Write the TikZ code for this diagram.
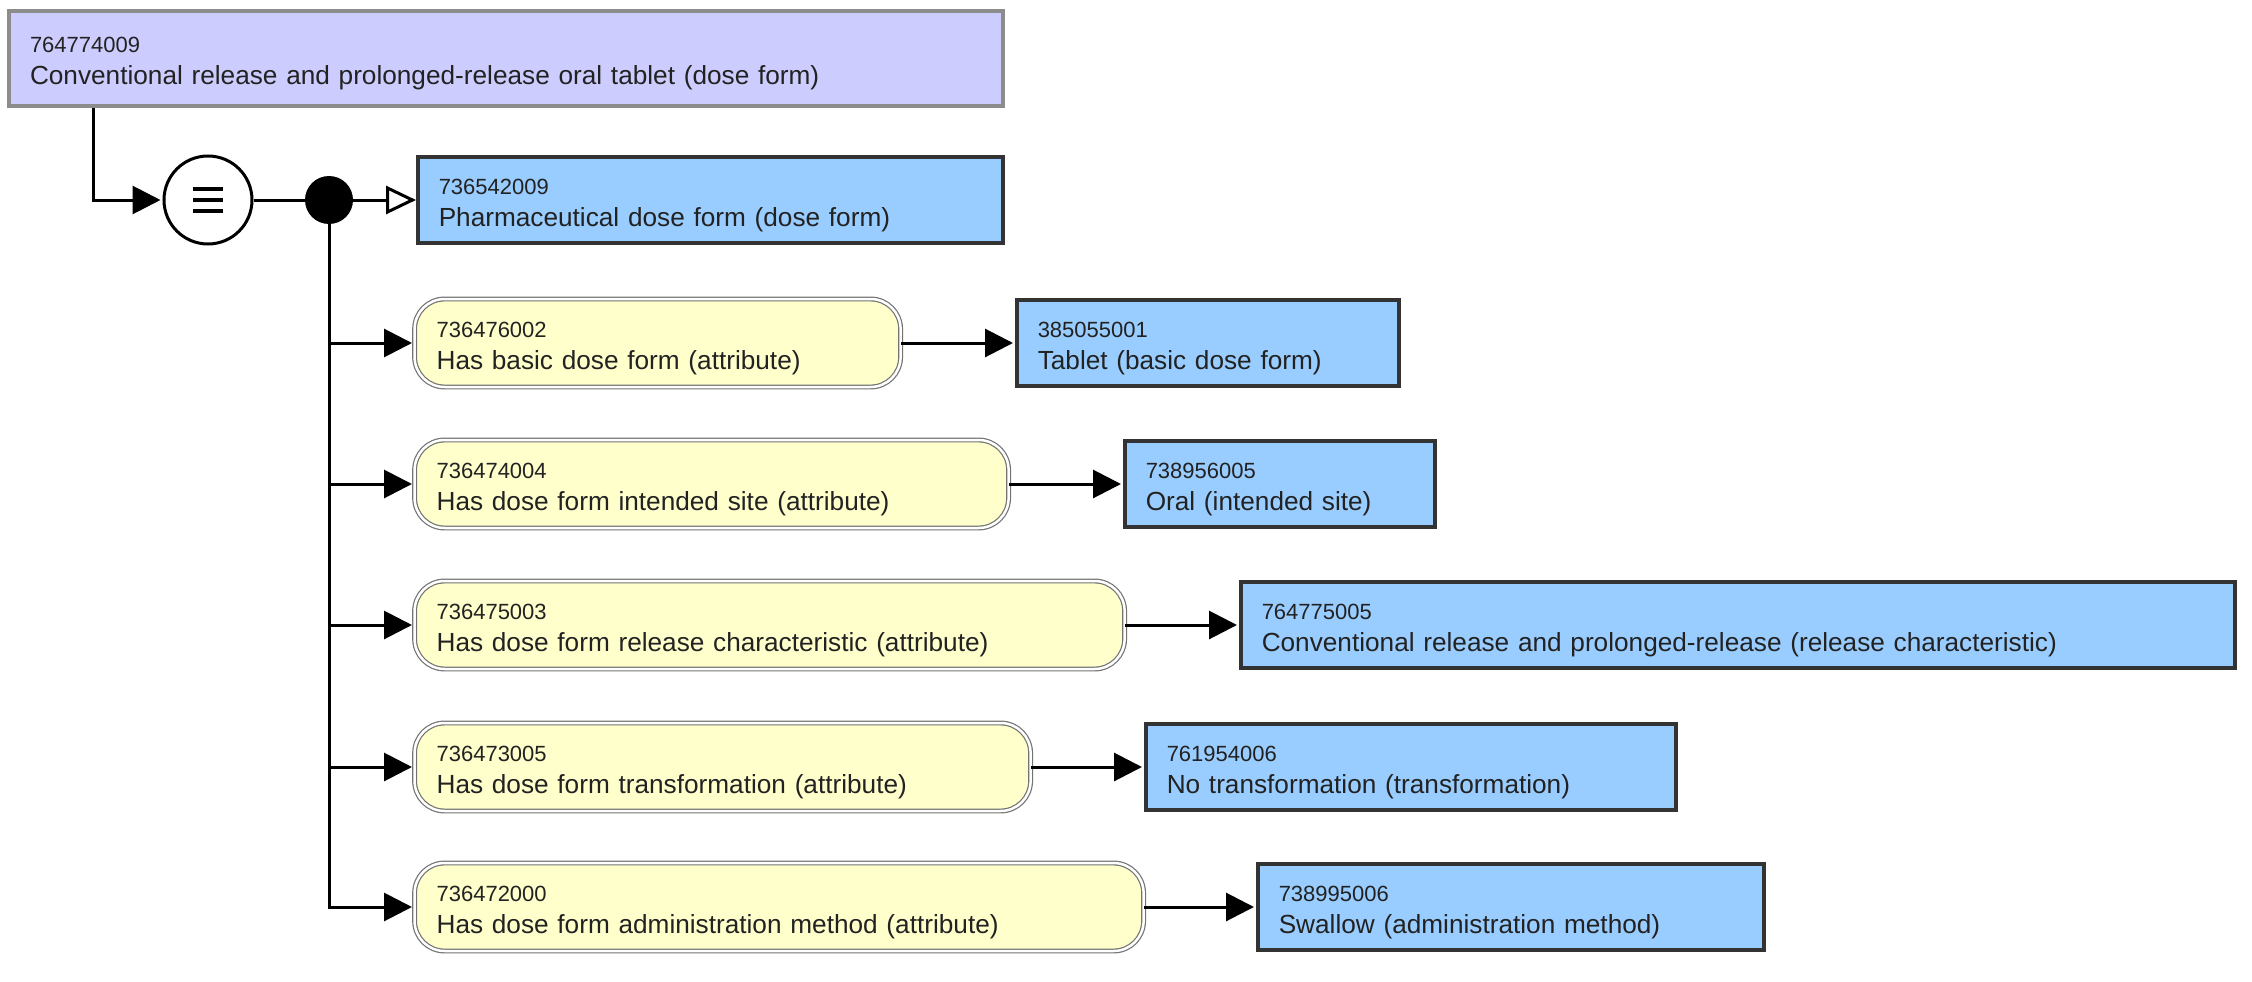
\documentclass[tikz,border=0pt]{standalone}
\usepackage{fontspec}
\setmainfont{Liberation Sans}
\usetikzlibrary{arrows.meta}
\newcommand\idf{\fontsize{22}{32}\selectfont\rule{0pt}{26pt}}
\newcommand\mnf{\fontsize{26.2}{32}\selectfont}
\definecolor{topfill}{HTML}{CCCCFF}
\definecolor{valfill}{HTML}{99CCFF}
\definecolor{attfill}{HTML}{FFFFCC}
\definecolor{txt}{HTML}{222222}
\tikzset{
 concept/.style={anchor=west, draw=black!80, line width=3.5pt, fill=valfill, minimum height=86pt,
   inner xsep=21pt, inner ysep=0pt, align=left, font=\mnf, text=txt},
 topconcept/.style={concept, fill=topfill, draw=black!45, line width=4pt, minimum height=95pt},
 attr/.style={anchor=west, draw=black!55, line width=1.2pt, double=white, double distance=2.5pt,
   fill=attfill, rounded corners=30pt, minimum height=88pt, inner xsep=22pt, inner ysep=0pt,
   align=left, font=\mnf, text=txt},
 conn/.style={line width=3pt, -{Triangle[length=28pt,width=28pt]}, shorten >=2pt},
 isa/.style={line width=3pt, -{Triangle[open,length=30pt,width=28pt,fill=white]}},
 plainline/.style={line width=3pt},
}
\begin{document}
\begin{tikzpicture}[x=1pt,y=-1pt]
\useasboundingbox[fill=white] (0,0) rectangle (2252,982);
% top concept
\node[topconcept, text width=952pt] (top) at (7,58.5) {{\idf 764774009}\\Conventional release and prolonged-release oral tablet (dose form)};
% equivalence and conjunction
\node[circle, draw, line width=3pt, minimum size=88pt, fill=white, inner sep=0pt] (eq) at (208,200) {};
\foreach \d in {-11,0,11} \draw[line width=4pt] ([xshift=-15pt,yshift=\d pt]eq.center) -- ++(30pt,0pt);
\node[circle, fill=black, minimum size=48pt, inner sep=0pt] (dot) at (329,200) {};
% parent
\node[concept, text width=543pt] (pharm) at (416,200) {{\idf 736542009}\\Pharmaceutical dose form (dose form)};
% attributes
\node[attr, text width=442pt] (a1) at (414,343) {{\idf 736476002}\\Has basic dose form (attribute)};
\node[attr, text width=550pt] (a2) at (414,484) {{\idf 736474004}\\Has dose form intended site (attribute)};
\node[attr, text width=666pt] (a3) at (414,625) {{\idf 736475003}\\Has dose form release characteristic (attribute)};
\node[attr, text width=572pt] (a4) at (414,767) {{\idf 736473005}\\Has dose form transformation (attribute)};
\node[attr, text width=685pt] (a5) at (414,907) {{\idf 736472000}\\Has dose form administration method (attribute)};
% values
\node[concept, text width=340pt] (v1) at (1015,343) {{\idf 385055001}\\Tablet (basic dose form)};
\node[concept, text width=268pt] (v2) at (1123,484) {{\idf 738956005}\\Oral (intended site)};
\node[concept, text width=952pt] (v3) at (1239,625) {{\idf 764775005}\\Conventional release and prolonged-release (release characteristic)};
\node[concept, text width=488pt] (v4) at (1144,767) {{\idf 761954006}\\No transformation (transformation)};
\node[concept, text width=464pt] (v5) at (1256,907) {{\idf 738995006}\\Swallow (administration method)};
% connectors
\draw[conn] ([xshift=86pt]top.south west) |- (eq.west);
\draw[plainline] (eq) -- (dot);
\draw[isa] (dot) -- (dot -| pharm.west);
\draw[plainline] (dot) -- (dot |- a4.west);
\foreach \n in {a1,a2,a3,a4} \draw[conn] (dot |- \n.west) -- (\n.west);
\draw[conn] (dot) |- (a5.west);
\foreach \a/\v in {a1/v1,a2/v2,a3/v3,a4/v4,a5/v5} \draw[conn] (\a.east) -- (\a.east -| \v.west);
\end{tikzpicture}
\end{document}
